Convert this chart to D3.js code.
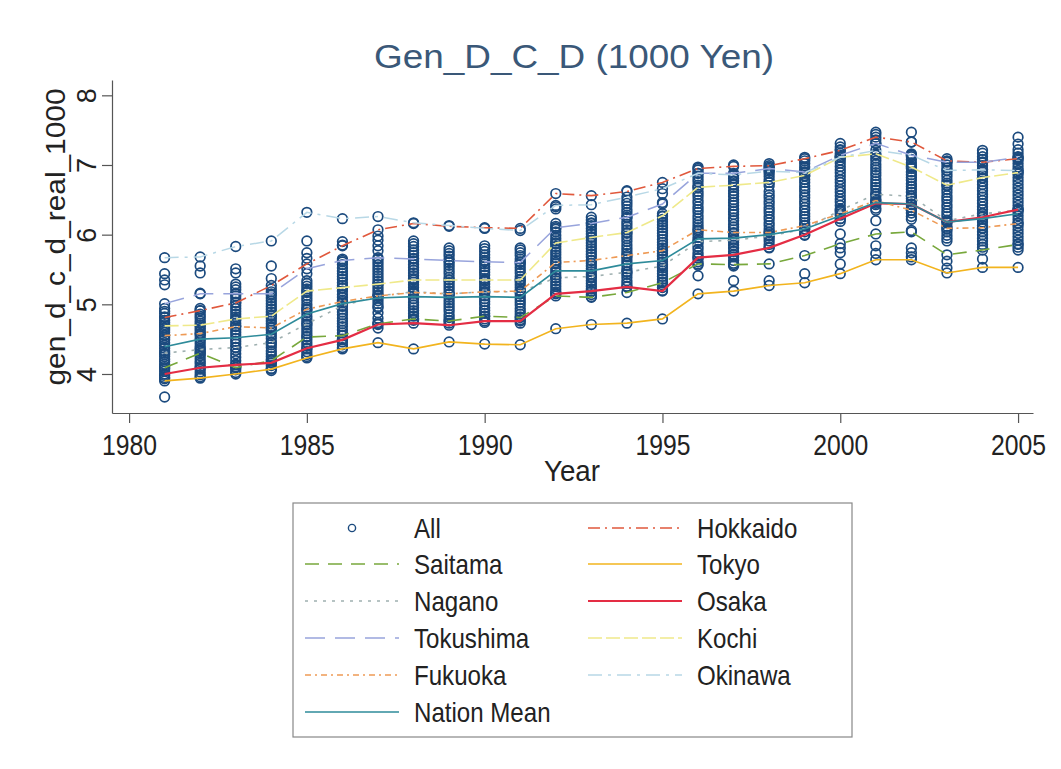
<!DOCTYPE html>
<html>
<head>
<meta charset="utf-8">
<script src="https://cdn.jsdelivr.net/npm/d3@7"></script>
<style>
body { margin: 0; background: #fff; }
text { font-family: "Liberation Sans", Arial, sans-serif; }
</style>
</head>
<body>
<svg id="chart" width="1061" height="769"></svg>
<script>
// years on the x axis
var years = [1981,1982,1983,1984,1985,1986,1987,1988,1989,1990,1991,1992,1993,1994,1995,1996,1997,1998,1999,2000,2001,2002,2003,2004,2005];
var xTicks = [1980,1985,1990,1995,2000,2005];
var yTicks = [4,5,6,7,8];

// named prefectures (1000 yen, real)
var hokkaido   = [4.81,4.91,5.02,5.27,5.58,5.84,6.07,6.16,6.12,6.10,6.09,6.59,6.56,6.62,6.75,6.95,6.98,6.99,7.09,7.21,7.40,7.33,7.06,7.04,7.09];
var saitama    = [4.09,4.30,4.09,4.19,4.53,4.55,4.72,4.79,4.76,4.83,4.81,5.12,5.10,5.17,5.31,5.58,5.57,5.58,5.70,5.87,6.01,6.04,5.71,5.78,5.86];
var tokyo      = [3.90,3.94,4.00,4.07,4.23,4.36,4.45,4.36,4.46,4.43,4.42,4.65,4.71,4.73,4.79,5.15,5.19,5.27,5.31,5.44,5.64,5.64,5.45,5.53,5.53];
var nagano     = [4.30,4.35,4.38,4.45,4.72,4.98,5.12,5.18,5.15,5.18,5.18,5.38,5.40,5.46,5.55,5.90,5.92,5.98,6.08,6.35,6.58,6.55,6.20,6.30,6.35];
var osaka      = [4.00,4.09,4.13,4.16,4.37,4.49,4.71,4.73,4.70,4.76,4.76,5.15,5.19,5.25,5.19,5.67,5.71,5.81,6.00,6.23,6.45,6.44,6.18,6.25,6.36];
var tokushima  = [5.01,5.15,5.15,5.15,5.51,5.63,5.67,5.65,5.63,5.61,5.60,6.10,6.16,6.25,6.44,6.88,6.88,6.95,6.90,7.14,7.31,7.14,7.04,7.04,7.11];
var kochi      = [4.69,4.70,4.79,4.83,5.19,5.24,5.29,5.35,5.35,5.35,5.35,5.88,5.96,6.03,6.27,6.68,6.71,6.75,6.85,7.11,7.16,6.97,6.71,6.82,6.89];
var fukuoka    = [4.55,4.58,4.68,4.66,4.93,5.04,5.12,5.17,5.15,5.18,5.19,5.60,5.63,5.70,5.77,6.07,6.03,6.03,6.13,6.30,6.49,6.35,6.09,6.10,6.16];
var okinawa    = [5.67,5.68,5.83,5.91,6.32,6.23,6.26,6.17,6.13,6.09,6.06,6.42,6.43,6.54,6.66,6.88,6.86,6.91,6.89,7.11,7.21,7.14,6.92,6.93,6.92];
var nationMean = [4.39,4.50,4.52,4.57,4.86,5.01,5.09,5.11,5.10,5.11,5.10,5.48,5.48,5.58,5.63,5.94,5.95,6.00,6.08,6.27,6.46,6.44,6.18,6.23,6.30];

// remaining prefectures, one list per year (same order as years)
var otherPrefs = [
  [5.44,5.35,5.28,4.94,4.90,4.87,4.82,4.77,4.74,4.71,4.66,4.63,4.60,4.56,4.52,4.49,4.45,4.41,4.37,4.33,4.28,4.25,4.21,4.18,4.14,4.11,4.07,4.04,3.98,3.95,3.93,3.67],
  [5.55,5.45,5.16,4.94,4.91,4.86,4.83,4.80,4.76,4.73,4.68,4.65,4.62,4.58,4.55,4.51,4.48,4.44,4.40,4.37,4.33,4.29,4.26,4.22,4.18,4.15,4.11,4.07,4.03,3.99,3.96],
  [5.51,5.45,5.29,5.25,5.21,5.16,5.12,5.08,5.03,4.98,4.94,4.90,4.86,4.82,4.77,4.73,4.69,4.64,4.60,4.56,4.51,4.47,4.43,4.38,4.34,4.29,4.24,4.19,4.14,4.10,4.06,4.02],
  [5.55,5.37,5.22,5.18,5.13,5.09,5.05,5.01,4.97,4.93,4.89,4.85,4.80,4.76,4.72,4.68,4.63,4.59,4.55,4.51,4.46,4.42,4.38,4.33,4.29,4.25,4.21,4.16,4.12,4.08,4.05],
  [5.91,5.74,5.66,5.44,5.34,5.30,5.26,5.22,5.17,5.13,5.09,5.05,5.00,4.96,4.92,4.88,4.83,4.79,4.75,4.70,4.66,4.62,4.58,4.54,4.49,4.45,4.41,4.36,4.32,4.28,4.25],
  [5.90,5.85,5.65,5.61,5.57,5.52,5.48,5.44,5.40,5.36,5.31,5.27,5.23,5.19,5.14,5.10,5.06,5.02,4.97,4.93,4.89,4.85,4.80,4.76,4.72,4.68,4.63,4.59,4.55,4.50,4.46,4.42,4.38],
  [5.98,5.92,5.84,5.77,5.65,5.61,5.57,5.53,5.49,5.45,5.41,5.37,5.33,5.29,5.25,5.21,5.17,5.13,5.09,5.05,5.01,4.97,4.95,4.88,4.80,4.74,4.66],
  [5.91,5.87,5.83,5.78,5.74,5.70,5.66,5.62,5.57,5.53,5.49,5.45,5.41,5.37,5.32,5.28,5.24,5.20,5.16,5.12,5.08,5.03,4.99,4.95,4.91,4.87,4.83,4.79,4.77],
  [5.81,5.77,5.73,5.69,5.64,5.60,5.56,5.52,5.48,5.44,5.39,5.35,5.31,5.27,5.23,5.19,5.14,5.10,5.06,5.02,4.98,4.94,4.90,4.85,4.81,4.77,4.73],
  [5.84,5.80,5.76,5.71,5.67,5.63,5.58,5.54,5.50,5.46,5.42,5.37,5.33,5.29,5.25,5.21,5.16,5.12,5.08,5.04,5.00,4.95,4.91,4.87,4.83,4.79,4.74],
  [5.81,5.78,5.74,5.70,5.65,5.61,5.57,5.53,5.49,5.45,5.40,5.36,5.32,5.28,5.24,5.20,5.15,5.11,5.07,5.03,4.99,4.94,4.90,4.86,4.82,4.78,4.73],
  [6.40,6.37,6.16,6.12,6.08,6.04,5.99,5.95,5.91,5.87,5.83,5.79,5.75,5.71,5.67,5.63,5.58,5.54,5.50,5.46,5.42,5.38,5.34,5.30,5.26,5.22,5.18,5.16],
  [6.25,6.21,6.17,6.13,6.09,6.05,6.01,5.97,5.92,5.88,5.84,5.80,5.76,5.72,5.68,5.63,5.59,5.55,5.51,5.47,5.43,5.38,5.34,5.30,5.26,5.22,5.18,5.14,5.11],
  [6.63,6.49,6.45,6.41,6.36,6.32,6.28,6.24,6.19,6.15,6.11,6.07,6.02,5.98,5.94,5.90,5.85,5.81,5.77,5.73,5.68,5.64,5.60,5.56,5.51,5.47,5.43,5.39,5.34,5.30,5.26],
  [6.59,6.46,6.30,6.26,6.22,6.18,6.14,6.10,6.06,6.02,5.98,5.93,5.89,5.85,5.81,5.77,5.73,5.69,5.65,5.61,5.57,5.52,5.48,5.44,5.40,5.36,5.32,5.28,5.24,5.20],
  [6.97,6.93,6.84,6.80,6.76,6.71,6.67,6.62,6.58,6.54,6.49,6.45,6.40,6.36,6.32,6.27,6.23,6.18,6.14,6.10,6.05,6.01,5.96,5.92,5.88,5.83,5.79,5.74,5.70,5.66,5.61,5.56,5.41],
  [7.00,6.85,6.81,6.77,6.72,6.68,6.63,6.59,6.55,6.50,6.46,6.42,6.37,6.33,6.29,6.24,6.20,6.15,6.11,6.07,6.02,5.98,5.94,5.89,5.85,5.81,5.76,5.72,5.68,5.63,5.59,5.55,5.34],
  [7.02,6.97,6.93,6.88,6.84,6.79,6.75,6.70,6.62,6.57,6.53,6.48,6.44,6.39,6.35,6.31,6.26,6.22,6.17,6.13,6.08,6.04,6.00,5.95,5.91,5.86,5.82,5.34],
  [7.11,7.06,7.02,6.97,6.93,6.88,6.84,6.79,6.75,6.70,6.66,6.62,6.57,6.53,6.48,6.44,6.39,6.35,6.30,6.26,6.22,6.17,6.13,6.08,6.04,5.99,5.44],
  [7.31,7.26,7.22,7.17,7.12,7.07,7.03,6.98,6.93,6.89,6.84,6.79,6.75,6.70,6.65,6.61,6.56,6.51,6.47,6.42,6.37,6.33,6.28,6.23,6.19,6.01,5.81,5.74,5.58],
  [7.47,7.44,7.36,7.31,7.14,7.10,7.06,7.01,6.97,6.93,6.89,6.85,6.80,6.76,6.72,6.68,6.64,6.59,6.55,6.51,6.47,6.43,6.38,6.35,6.20,5.84,5.73],
  [7.47,7.33,7.16,7.12,7.08,7.03,6.99,6.95,6.90,6.86,6.82,6.78,6.73,6.69,6.65,6.61,6.56,6.52,6.48,6.43,6.39,6.35,6.31,6.26,6.22,6.06,5.81,5.74,5.68],
  [7.09,7.05,7.00,6.96,6.92,6.87,6.83,6.78,6.74,6.70,6.65,6.61,6.56,6.52,6.48,6.43,6.39,6.34,6.30,6.26,6.21,6.17,6.12,6.08,6.04,5.99,5.95,5.91,5.62,5.52],
  [7.21,7.17,7.12,7.08,7.03,6.99,6.94,6.90,6.85,6.81,6.76,6.72,6.67,6.63,6.58,6.54,6.49,6.45,6.40,6.36,6.31,6.27,6.22,6.18,6.13,6.09,6.04,6.00,5.95,5.91,5.86,5.82,5.65],
  [7.40,7.30,7.22,7.17,7.12,7.07,7.02,6.97,6.92,6.87,6.82,6.77,6.72,6.67,6.62,6.57,6.52,6.47,6.42,6.37,6.32,6.27,6.22,6.17,6.12,6.07,6.02,5.97,5.92,5.87,5.82,5.78]
];

// plot order = legend order (row-wise, 2 columns)
var series = [
  { name: "Hokkaido",    values: hokkaido,   color: "#e0583c", dash: "12,5,2,5", width: 1.6 },
  { name: "Saitama",     values: saitama,    color: "#78a83c", dash: "14,9",     width: 1.6 },
  { name: "Tokyo",       values: tokyo,      color: "#f2b41e", dash: null,       width: 1.7 },
  { name: "Nagano",      values: nagano,     color: "#9fb0b0", dash: "3,6",      width: 1.6 },
  { name: "Osaka",       values: osaka,      color: "#e42d44", dash: null,       width: 2.2 },
  { name: "Tokushima",   values: tokushima,  color: "#98a4dc", dash: "20,10",    width: 1.5 },
  { name: "Kochi",       values: kochi,      color: "#efe98a", dash: "14,4",     width: 1.6 },
  { name: "Fukuoka",     values: fukuoka,    color: "#ee9a55", dash: "6,4,2,4",  width: 1.6 },
  { name: "Okinawa",     values: okinawa,    color: "#b8d8e6", dash: "14,6,3,6", width: 1.5 },
  { name: "Nation Mean", values: nationMean, color: "#2e8b9a", dash: null,       width: 1.6 }
];

var svg = d3.select("#chart");

var x = d3.scaleLinear().domain([1979.52, 2005.42]).range([112, 1033]);
var y = d3.scaleLinear().domain([3.44, 8.22]).range([413, 80]);

// all prefectures as hollow circles
var allPts = [];
years.forEach(function(yr, i) {
  series.forEach(function(s) {
    if (s.name != "Nation Mean") allPts.push({ year: yr, v: s.values[i] });
  });
  otherPrefs[i].forEach(function(v) { allPts.push({ year: yr, v: v }); });
});

svg.append("g").selectAll("circle")
  .data(allPts)
  .enter().append("circle")
    .attr("cx", function(d) { return x(d.year); })
    .attr("cy", function(d) { return y(d.v); })
    .attr("r", 4.8)
    .attr("fill", "none")
    .attr("stroke", "#1b4a7e")
    .attr("stroke-width", 1.7);

var line = d3.line()
  .x(function(d, i) { return x(years[i]); })
  .y(function(d) { return y(d); });

series.forEach(function(s) {
  svg.append("path")
    .attr("d", line(s.values))
    .attr("fill", "none")
    .attr("stroke", s.color)
    .attr("stroke-width", s.width)
    .attr("stroke-dasharray", s.dash);
});

// axes
var xAxis = svg.append("g")
  .attr("transform", "translate(0,413)")
  .call(d3.axisBottom(x).tickValues(xTicks).tickSize(10).tickSizeOuter(0).tickFormat(d3.format("d")));
xAxis.selectAll("text")
  .attr("y", 42).attr("dy", 0)
  .attr("font-size", 29)
  .attr("fill", "#222")
  .attr("textLength", 55)
  .attr("lengthAdjust", "spacingAndGlyphs");

var yAxis = svg.append("g")
  .attr("transform", "translate(112,0)")
  .call(d3.axisLeft(y).tickValues(yTicks).tickSize(10).tickSizeOuter(0).tickFormat(d3.format("d")));
yAxis.selectAll("text")
  .attr("x", 0).attr("y", 0).attr("dy", 0)
  .attr("text-anchor", "middle")
  .attr("transform", "translate(-16,0) rotate(-90)")
  .attr("font-size", 27)
  .attr("fill", "#222");

svg.selectAll(".domain, .tick line").attr("stroke", "#555").attr("stroke-width", 1.2);

// titles
svg.append("text")
  .attr("x", 574).attr("y", 68)
  .attr("text-anchor", "middle")
  .attr("font-size", 34)
  .attr("fill", "#3a5878")
  .attr("textLength", 400)
  .attr("lengthAdjust", "spacingAndGlyphs")
  .text("Gen_D_C_D (1000 Yen)");

svg.append("text")
  .attr("x", 572).attr("y", 481)
  .attr("text-anchor", "middle")
  .attr("font-size", 29)
  .attr("fill", "#222")
  .attr("textLength", 56)
  .attr("lengthAdjust", "spacingAndGlyphs")
  .text("Year");

svg.append("text")
  .attr("transform", "translate(65,237) rotate(-90)")
  .attr("text-anchor", "middle")
  .attr("font-size", 28)
  .attr("fill", "#222")
  .attr("textLength", 297)
  .attr("lengthAdjust", "spacingAndGlyphs")
  .text("gen_d_c_d_real_1000");

// legend
var legend = svg.append("g");
legend.append("rect")
  .attr("x", 293).attr("y", 503)
  .attr("width", 559).attr("height", 234)
  .attr("fill", "#fff")
  .attr("stroke", "#888")
  .attr("stroke-width", 1.2);

var entries = [{ name: "All", marker: true }].concat(series);
var rowY = [528, 564, 601, 638, 675, 712];
var colX = [305, 588];

entries.forEach(function(e, i) {
  var cx = colX[i % 2], cy = rowY[Math.floor(i / 2)];
  if (e.marker) {
    legend.append("circle")
      .attr("cx", cx + 47).attr("cy", cy)
      .attr("r", 3.6)
      .attr("fill", "none")
      .attr("stroke", "#1b4a7e")
      .attr("stroke-width", 1.4);
  } else {
    legend.append("line")
      .attr("x1", cx).attr("x2", cx + 94)
      .attr("y1", cy).attr("y2", cy)
      .attr("stroke", e.color)
      .attr("stroke-width", e.width)
      .attr("stroke-dasharray", e.dash);
  }
  var t = legend.append("text")
    .attr("x", cx + 109).attr("y", cy + 10)
    .attr("font-size", 28)
    .attr("fill", "#222")
    .text(e.name);
  var w = t.node().getComputedTextLength();
  t.attr("textLength", w * 0.86).attr("lengthAdjust", "spacingAndGlyphs");
});
</script>
</body>
</html>
